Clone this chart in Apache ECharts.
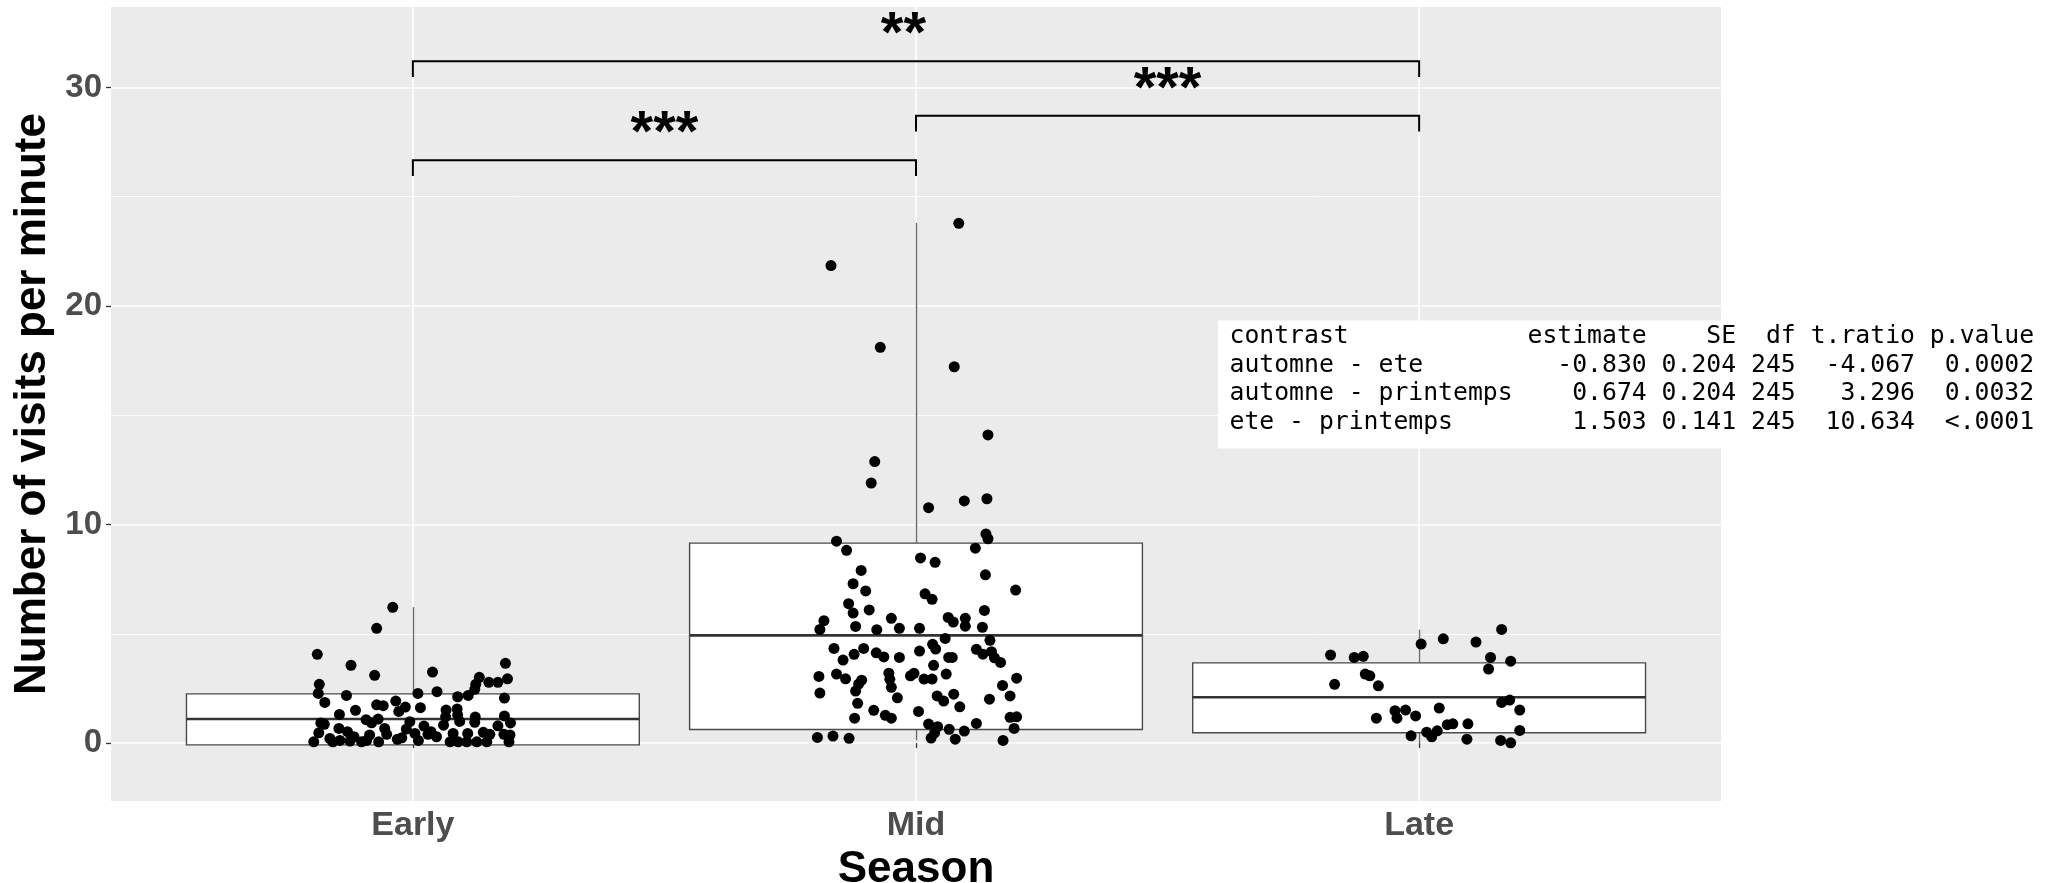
<!DOCTYPE html>
<html><head><meta charset="utf-8">
<script src="https://cdn.jsdelivr.net/npm/echarts@6/dist/echarts.min.js"></script>
<style>html,body{margin:0;padding:0;background:#fff;overflow:hidden}#c{width:2059px;height:883px}</style>
</head><body><div id="c"></div>
<script>
// ---------- data ----------
const categories = ['Early', 'Mid', 'Late'];
const xTickValues = [1, 2, 3];
const yTicks = [0, 10, 20, 30];
const yMinorTicks = [5, 15, 25];
const yTitle = 'Number of visits per minute';
const xTitle = 'Season';

// box stats: [lower whisker, Q1, median, Q3, upper whisker]
const boxEarly = [-0.08, -0.08, 1.10, 2.25, 6.22];
const boxMid = [0.13, 0.62, 4.93, 9.15, 23.80];
const boxLate = [-0.02, 0.47, 2.10, 3.67, 5.19];

// jittered points [x position, value]
const pointsEarly = [
[0.960,6.21],[0.928,5.25],[0.810,4.06],[0.877,3.56],[0.924,3.10],[1.039,3.25],[1.184,3.65],[1.188,2.94],[1.132,3.01],[1.151,2.78],
[1.169,2.78],[1.125,2.69],[1.123,2.46],[0.814,2.69],[0.812,2.27],[0.868,2.18],[1.048,2.35],[1.010,2.27],[1.110,2.18],[1.089,2.12],
[1.182,2.06],[0.825,1.86],[0.966,1.92],[0.928,1.75],[0.941,1.71],[0.985,1.65],[1.015,1.62],[0.972,1.45],[0.886,1.50],[1.066,1.51],
[1.088,1.56],[0.854,1.31],[1.065,1.20],[1.089,1.28],[1.182,1.24],[1.124,1.19],[0.907,1.07],[0.931,1.10],[0.994,0.98],[1.093,0.99],
[0.817,0.92],[0.824,0.86],[0.918,0.93],[1.123,0.95],[1.194,0.92],[1.169,0.79],[1.022,0.78],[1.061,0.82],[0.853,0.67],[0.944,0.67],
[0.870,0.52],[0.987,0.64],[1.036,0.52],[0.813,0.47],[0.948,0.40],[1.181,0.40],[1.004,0.44],[1.080,0.44],[1.109,0.44],[1.140,0.49],
[0.835,0.21],[0.978,0.24],[0.883,0.29],[0.914,0.37],[1.153,0.40],[0.803,0.06],[0.841,0.06],[0.875,0.09],[0.898,0.06],[0.932,0.06],
[1.011,0.12],[1.074,0.06],[1.107,0.06],[1.127,0.06],[1.191,0.06],[1.193,0.37],[1.047,0.29],[1.030,0.40],[0.855,0.12],[0.908,0.12],
[1.147,0.06],[1.090,0.06],[0.969,0.17]
];
const pointsMid = [
[2.085,23.78],[1.831,21.85],[1.929,18.11],[2.076,17.22],[2.143,14.10],[1.918,12.88],[1.911,11.90],[2.025,10.77],[2.096,11.08],[2.141,11.18],
[2.139,9.57],[2.143,9.35],[1.842,9.24],[1.862,8.82],[2.118,8.92],[2.009,8.47],[2.038,8.27],[1.891,7.90],[2.138,7.70],[1.875,7.29],
[1.900,6.96],[2.198,7.00],[2.018,6.83],[2.032,6.58],[1.866,6.38],[1.875,5.95],[1.907,6.09],[2.136,6.07],[1.951,5.71],[1.817,5.60],
[1.809,5.20],[1.880,5.34],[1.922,5.19],[1.967,5.25],[2.007,5.25],[2.064,5.75],[2.074,5.54],[2.098,5.71],[2.098,5.35],[2.132,5.30],
[2.147,4.70],[2.058,4.79],[2.033,4.52],[2.039,4.30],[1.837,4.33],[1.896,4.33],[2.007,4.21],[2.120,4.29],[2.133,4.07],[2.150,4.18],
[2.156,3.90],[2.168,3.69],[1.855,3.80],[1.877,4.06],[1.921,4.13],[1.936,3.94],[1.967,3.92],[2.065,3.92],[2.072,3.92],[2.035,3.56],
[1.807,3.05],[1.842,3.16],[1.860,2.94],[1.892,2.88],[1.886,2.70],[1.946,3.20],[1.948,2.92],[1.951,2.55],[1.989,3.08],[1.996,3.19],
[2.016,2.93],[2.032,2.93],[2.060,3.16],[2.200,2.97],[1.809,2.29],[1.880,2.38],[1.963,2.07],[2.042,2.16],[2.055,1.92],[2.075,2.24],
[2.087,1.66],[2.146,2.01],[2.172,2.64],[2.187,2.16],[1.884,1.82],[1.916,1.50],[1.939,1.27],[1.951,1.14],[1.878,1.14],[2.005,1.45],
[2.025,0.87],[2.043,0.75],[2.066,0.63],[2.096,0.55],[2.120,0.90],[2.187,1.18],[2.200,1.20],[2.195,0.67],[2.037,0.47],[2.030,0.23],
[2.078,0.18],[2.173,0.12],[1.804,0.26],[1.835,0.32],[1.867,0.22]
];
const pointsLate = [
[3.164,5.20],[3.048,4.77],[3.004,4.53],[3.113,4.62],[2.824,4.03],[2.871,3.92],[2.889,3.97],[3.142,3.92],[3.182,3.75],[3.138,3.39],
[2.893,3.16],[2.902,3.08],[2.832,2.69],[2.919,2.62],[3.164,1.86],[3.180,1.97],[3.200,1.51],[2.952,1.48],[2.973,1.51],[3.040,1.60],
[2.915,1.14],[2.956,1.14],[2.993,1.24],[3.056,0.84],[3.067,0.88],[3.097,0.88],[3.200,0.58],[3.015,0.50],[3.036,0.56],[3.025,0.29],
[2.984,0.33],[3.095,0.18],[3.162,0.12],[3.182,0.01]
];

// significance brackets
const bracketFrom = [1, 2, 1];
const bracketTo = [2, 3, 3];
const bracketY = [26.67, 28.70, 31.20];
const bracketLabelX = [1.5, 2.5, 1.975];
const bracketLabels = ['***', '***', '**'];

// emmeans contrast table
const tableHeader = ['contrast', 'estimate', 'SE', 'df', 't.ratio', 'p.value'];
const contrasts = ['automne - ete', 'automne - printemps', 'ete - printemps'];
const estimates = ['-0.830', '0.674', '1.503'];
const ses = ['0.204', '0.204', '0.141'];
const dfs = ['245', '245', '245'];
const tRatios = ['-4.067', '3.296', '10.634'];
const pValues = ['0.0002', '0.0032', '<.0001'];

// ---------- build ----------
const colW = [19, 8, 5, 3, 7, 7];
function fmtRow(cells) {
  return cells.map((c, i) => i === 0 ? c.padEnd(colW[i]) : c.padStart(colW[i])).join(' ');
}
const tableLines = [fmtRow(tableHeader)];
for (let i = 0; i < contrasts.length; i++) {
  tableLines.push(fmtRow([contrasts[i], estimates[i], ses[i], dfs[i], tRatios[i], pValues[i]]));
}

const boxData = [[1].concat(boxEarly), [2].concat(boxMid), [3].concat(boxLate)];
const bracketData = bracketFrom.map((f, i) => [f, bracketTo[i], bracketY[i], bracketLabelX[i]]);

const Y_MIN = -2.65, Y_MAX = 33.68;
const BOX_HALF = 0.45;
const TIP = 0.72;
const FONT = '"Liberation Sans", Arial, sans-serif';

const chart = echarts.init(document.getElementById('c'), null, {renderer: 'canvas', width: 2059, height: 883});
chart.setOption({
  animation: false,
  backgroundColor: '#ffffff',
  grid: {left: 111, right: 338, top: 7, bottom: 82, show: true, backgroundColor: '#EBEBEB', borderWidth: 0,
    containLabel: false, outerBoundsMode: 'none'},
  xAxis: {
    type: 'value', min: 0.4, max: 3.6,
    axisLine: {show: false},
    axisTick: {show: true, customValues: xTickValues, length: 5, lineStyle: {color: '#333333', width: 1.3}},
    axisLabel: {customValues: xTickValues, formatter: v => categories[Math.round(v) - 1],
      fontSize: 34, fontWeight: 'bold', color: '#4D4D4D', fontFamily: FONT, margin: 8},
    splitLine: {show: true, lineStyle: {color: '#FFFFFF', width: 1.6}},
    name: xTitle, nameLocation: 'middle', nameGap: 37,
    nameTextStyle: {fontSize: 44, fontWeight: 'bold', color: '#000000', fontFamily: FONT}
  },
  yAxis: [{
    type: 'value', min: Y_MIN, max: Y_MAX,
    axisLine: {show: false},
    axisTick: {show: true, customValues: yTicks, length: 5, lineStyle: {color: '#333333', width: 1.3}},
    axisLabel: {customValues: yTicks, fontSize: 33, fontWeight: 'bold', color: '#4D4D4D', fontFamily: FONT, margin: 9},
    splitLine: {show: true, lineStyle: {color: '#FFFFFF', width: 1.6}},
    name: yTitle, nameLocation: 'middle', nameGap: 53,
    nameTextStyle: {fontSize: 44, fontWeight: 'bold', color: '#000000', fontFamily: FONT}
  }, {
    type: 'value', min: Y_MIN, max: Y_MAX, position: 'left',
    axisLine: {show: false},
    axisTick: {show: false, customValues: yMinorTicks},
    axisLabel: {show: false, customValues: yMinorTicks},
    splitLine: {show: true, lineStyle: {color: '#FFFFFF', width: 0.9}}
  }],
  series: [{
    type: 'custom', name: 'box', z: 2, silent: true,
    encode: {x: 0, y: [1, 2, 3, 4, 5]},
    data: boxData,
    renderItem: function (params, api) {
      const x = api.value(0);
      const lw = api.coord([x, api.value(1)]);
      const q1 = api.coord([x - BOX_HALF, api.value(2)]);
      const md = api.coord([x, api.value(3)]);
      const q3 = api.coord([x + BOX_HALF, api.value(4)]);
      const uw = api.coord([x, api.value(5)]);
      const cx = Math.round(md[0]) + 0.5;
      const left = q1[0], right = q3[0];
      return {type: 'group', children: [
        {type: 'line', shape: {x1: cx, y1: uw[1], x2: cx, y2: q3[1]}, style: {stroke: '#6b6b6b', lineWidth: 1.4}},
        {type: 'line', shape: {x1: cx, y1: q1[1], x2: cx, y2: lw[1]}, style: {stroke: '#6b6b6b', lineWidth: 1.4}},
        {type: 'rect', shape: {x: left, y: q3[1], width: right - left, height: q1[1] - q3[1]},
          style: {fill: '#FFFFFF', stroke: '#4a4a4a', lineWidth: 1.4}},
        {type: 'line', shape: {x1: left, y1: md[1], x2: right, y2: md[1]}, style: {stroke: '#333333', lineWidth: 2.6}}
      ]};
    }
  }, {
    type: 'scatter', name: 'Early', data: pointsEarly, symbol: 'circle', symbolSize: 11, z: 3, silent: true,
    itemStyle: {color: '#000000', opacity: 1}
  }, {
    type: 'scatter', name: 'Mid', data: pointsMid, symbol: 'circle', symbolSize: 11, z: 3, silent: true,
    itemStyle: {color: '#000000', opacity: 1}
  }, {
    type: 'scatter', name: 'Late', data: pointsLate, symbol: 'circle', symbolSize: 11, z: 3, silent: true,
    itemStyle: {color: '#000000', opacity: 1}
  }, {
    type: 'custom', name: 'signif', z: 4, silent: true,
    encode: {x: [0, 1], y: 2},
    data: bracketData,
    clip: false,
    renderItem: function (params, api) {
      const a = api.coord([api.value(0), api.value(2) - TIP]);
      const b = api.coord([api.value(0), api.value(2)]);
      const c = api.coord([api.value(1), api.value(2)]);
      const d = api.coord([api.value(1), api.value(2) - TIP]);
      const t = api.coord([api.value(3), api.value(2)]);
      return {type: 'group', children: [
        {type: 'polyline', shape: {points: [a, b, c, d]}, style: {stroke: '#000000', lineWidth: 2, fill: null}},
        {type: 'text', style: {text: bracketLabels[params.dataIndex], x: t[0], y: t[1] - 25,
          fontSize: 58, fontWeight: 'bold', fontFamily: FONT, fill: '#000000', align: 'center', verticalAlign: 'middle'}}
      ]};
    }
  }],
  graphic: {elements: [
    {type: 'rect', z: 100, silent: true, shape: {x: 1218, y: 320.5, width: 841, height: 128}, style: {fill: '#FFFFFF'}},
    {type: 'text', z: 101, silent: true, x: 1229.5, y: 322.2, style: {text: tableLines.join('\n'), fontSize: 24.75,
      fontFamily: '"DejaVu Sans Mono", monospace', fill: '#000000', lineHeight: 28.6, verticalAlign: 'top', align: 'left'}}
  ]}
});
</script>
</body></html>
